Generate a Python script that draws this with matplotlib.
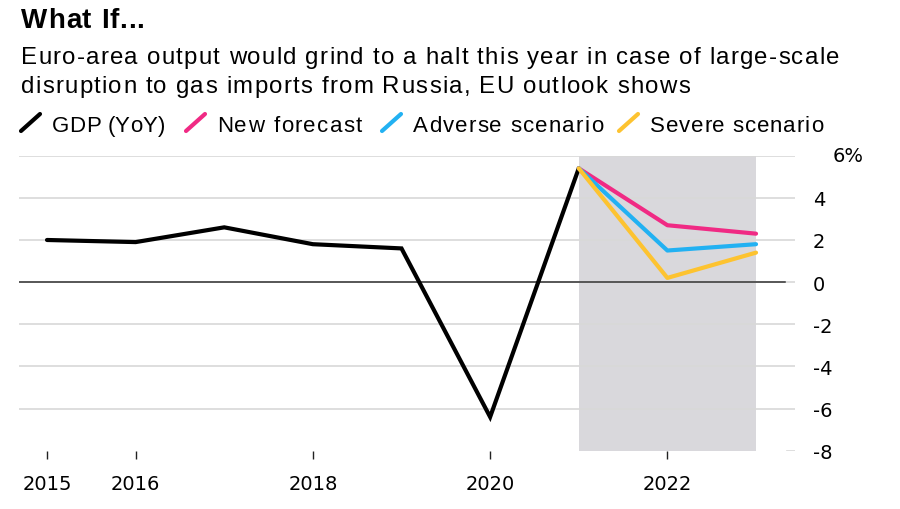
import matplotlib.pyplot as plt
from matplotlib.lines import Line2D
from matplotlib.font_manager import FontProperties, findfont
from matplotlib.ft2font import FT2Font

plt.rcParams['font.family'] = ['DejaVu Sans']

years = [2015, 2016, 2017, 2018, 2019, 2020, 2021]
gdp = [2.0, 1.9, 2.6, 1.8, 1.6, -6.4, 5.4]

fc_years = [2021, 2022, 2023]
new_forecast = [5.4, 2.7, 2.3]
adverse = [5.4, 1.5, 1.8]
severe = [5.4, 0.2, 1.4]

xticks = [2015, 2016, 2018, 2020, 2022]
yticks = [6, 4, 2, 0, -2, -4, -6, -8]

BLACK = '#000000'
PINK = '#f02a84'
BLUE = '#22b1f2'
YELLOW = '#fdc330'
SHADE = '#d9d8dc'
GRID = '#d8d8d8'

W, H = 900, 510
fig = plt.figure(figsize=(9, 5.1), dpi=100)


def px(x, y):
    return x / W, 1 - y / H


def spaced_text(x, y, s, width, size, weight='normal'):
    # header font is a bit letter-spaced, so place glyph by glyph
    fp = FontProperties(family='Liberation Sans', weight=weight, size=size)
    font = FT2Font(findfont(fp))
    font.set_size(size, 100)
    adv = [font.load_char(ord(c)).linearHoriAdvance / 65536 for c in s]
    extra = (width - sum(adv)) / (len(s) - 1)
    cx = x
    for c, a in zip(s, adv):
        fig.text(cx / W, 1 - y / H, c, fontproperties=fp, va='baseline')
        cx += a + extra


ax = fig.add_axes([19 / W, 1 - 451.7 / H, (795 - 19) / W, (451.7 - 156.7) / H])
ax.set_xlim(2014.684, 2023.44)
ax.set_ylim(-8, 6)

# shaded forecast period
ax.axvspan(2021, 2023, color=SHADE, zorder=0, lw=0)

for v in yticks:
    if v == 0:
        ax.axhline(0, color=GRID, lw=1.2, zorder=1)
        ax.axhline(0, xmin=0, xmax=0.987, color='#333333', lw=1.1, zorder=2)
    elif v == -8:
        ax.axhline(v, xmin=0.99, xmax=1, color=GRID, lw=1.2, zorder=1)
    else:
        ax.axhline(v, color=GRID, lw=1.2, zorder=1)

ax.plot(years, gdp, color=BLACK, lw=3, zorder=3, solid_capstyle='round', solid_joinstyle='miter')
ax.plot(fc_years, new_forecast, color=PINK, lw=3, zorder=4, solid_capstyle='round')
ax.plot(fc_years, adverse, color=BLUE, lw=3, zorder=5, solid_capstyle='round')
ax.plot(fc_years, severe, color=YELLOW, lw=3, zorder=6, solid_capstyle='round')

for s in ax.spines.values():
    s.set_visible(False)

ax.set_xticks(xticks)
ax.set_xticklabels([str(t) for t in xticks], fontsize=14)
ax.tick_params(axis='x', direction='out', length=6, width=1, color='#222222', pad=11)

ax.yaxis.tick_right()
ax.set_yticks(yticks)
ax.set_yticklabels(['' if v == 6 else str(v) for v in yticks], fontsize=14)
ax.tick_params(axis='y', length=0, pad=13)
ax.text(833 / W, 1 - 157 / H, '6%', transform=fig.transFigure, fontsize=14,
        ha='left', va='center')

# header
spaced_text(21, 28.5, 'What If...', 123, 20, weight='bold')
spaced_text(21, 64, 'Euro-area output would grind to a halt this year in case of large-scale', 818, 17.3)
spaced_text(21, 93, 'disruption to gas imports from Russia, EU outlook shows', 669, 17.3)

legend = [
    (21, 52, 113, BLACK, 'GDP (YoY)'),
    (186, 217, 145, PINK, 'New forecast'),
    (382, 413, 190, BLUE, 'Adverse scenario'),
    (619, 650, 173, YELLOW, 'Severe scenario'),
]
for x0, xt, wt, col, lab in legend:
    (a, b), (c, d) = px(x0, 132), px(x0 + 19, 115)
    fig.add_artist(Line2D([a, c], [b, d], transform=fig.transFigure,
                          color=col, lw=3, solid_capstyle='round'))
    spaced_text(xt, 132.5, lab, wt, 16)

fig.savefig('out.png', dpi=100)
